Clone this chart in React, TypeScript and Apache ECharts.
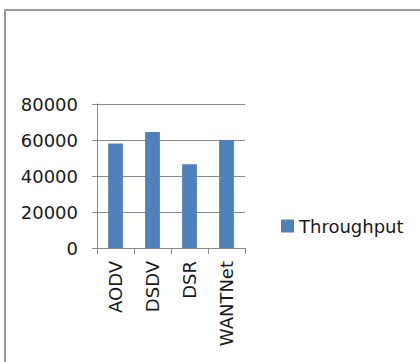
import React, { useEffect, useRef } from "react";
import * as echarts from "echarts";

const protocols = ["AODV", "DSDV", "DSR", "WANTNet"];
const throughput = [58000, 64500, 46500, 60000];
const seriesName = "Throughput";
const yMin = 0;
const yMax = 80000;
const yStep = 20000;

const FONT = "DejaVu Sans";
const TEXT = "#1a1a1a";
const GRID = "#8a8a8a";
const BAR = "#4F81BD";

export default function App() {
  const ref = useRef<HTMLDivElement>(null);

  useEffect(() => {
    if (!ref.current) return;
    const chart = echarts.init(ref.current, null, { renderer: "svg" });
    chart.setOption({
      animation: false,
      backgroundColor: "#ffffff",
      graphic: [
        {
          type: "line",
          shape: { x1: 4, y1: 10, x2: 420, y2: 10 },
          style: { stroke: "#999999", lineWidth: 2 },
        },
        {
          type: "line",
          shape: { x1: 5, y1: 9, x2: 5, y2: 362 },
          style: { stroke: "#999999", lineWidth: 2 },
        },
      ],
      grid: { left: 97, right: 175, top: 104, bottom: 114 },
      legend: {
        data: [seriesName],
        left: 281,
        top: 217,
        padding: 0,
        itemWidth: 13,
        itemHeight: 13,
        itemGap: 6,
        icon: "rect",
        textStyle: { fontFamily: FONT, fontSize: 18, color: TEXT },
      },
      xAxis: {
        type: "category",
        data: protocols,
        axisLine: { lineStyle: { color: GRID, width: 1 } },
        axisTick: { show: true, length: 6, lineStyle: { color: GRID } },
        axisLabel: {
          rotate: 90,
          margin: 13,
          fontFamily: FONT,
          fontSize: 18,
          color: TEXT,
        },
      },
      yAxis: {
        type: "value",
        min: yMin,
        max: yMax,
        interval: yStep,
        axisLine: { show: true, lineStyle: { color: GRID, width: 1 } },
        axisTick: { show: true, length: 5, lineStyle: { color: GRID } },
        splitLine: { lineStyle: { color: GRID, width: 1 } },
        axisLabel: {
          margin: 19,
          fontFamily: FONT,
          fontSize: 18,
          color: TEXT,
          formatter: (v: number) => String(v),
        },
      },
      series: [
        {
          name: seriesName,
          type: "bar",
          data: throughput,
          barCategoryGap: "60%",
          itemStyle: { color: BAR },
        },
      ],
    });
    return () => chart.dispose();
  }, []);

  return (
    <div
      ref={ref}
      style={{ position: "fixed", left: 0, top: 0, width: 420, height: 362 }}
    />
  );
}
